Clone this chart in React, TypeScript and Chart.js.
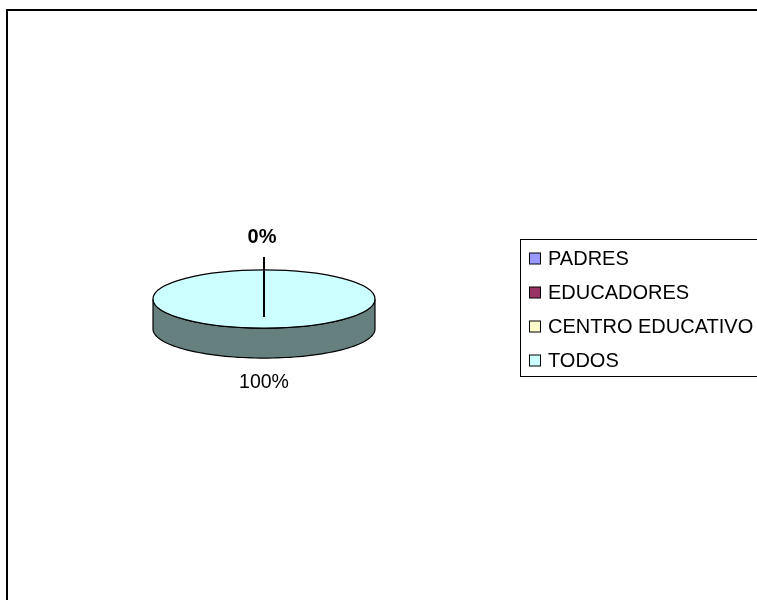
import React, { useEffect, useRef } from "react";
import { Chart, registerables } from "chart.js";

Chart.register(...registerables);

const categories = ["PADRES", "EDUCADORES", "CENTRO EDUCATIVO", "TODOS"];
const values = [0, 0, 0, 100];
const topColors = ["#9999FF", "#993366", "#FFFFCC", "#CCFFFF"];
const sideColors = ["#4D4D80", "#4D1A33", "#808066", "#668080"];

const TILT = 0.262;
const DEPTH = 30;
const FONT = '"Liberation Sans", Arial, sans-serif';

const pie3d = {
  id: "pie3d",
  beforeDraw(chart: any) {
    const ctx = chart.ctx;
    ctx.save();
    ctx.fillStyle = "#ffffff";
    ctx.fillRect(0, 0, chart.width, chart.height);
    ctx.strokeStyle = "#000000";
    ctx.lineWidth = 2;
    ctx.beginPath();
    ctx.rect(7, 10, chart.width + 20, chart.height + 20);
    ctx.stroke();
    ctx.restore();
  },
  beforeDatasetsDraw(chart: any) {
    const ctx = chart.ctx;
    const arcs = chart.getDatasetMeta(0).data;
    const a0 = arcs[0];
    const cx = a0.x, cy = a0.y, r = a0.outerRadius;
    ctx.save();
    ctx.lineWidth = 1.2;
    ctx.strokeStyle = "#000000";
    arcs.forEach((arc: any, i: number) => {
      const s = arc.startAngle, e = arc.endAngle;
      if (e - s <= 0) return;
      for (let n = -1; n <= 1; n++) {
        const lo = Math.max(s, 2 * Math.PI * n);
        const hi = Math.min(e, Math.PI + 2 * Math.PI * n);
        if (hi <= lo) continue;
        const steps = 80;
        ctx.beginPath();
        for (let k = 0; k <= steps; k++) {
          const t = lo + ((hi - lo) * k) / steps;
          const px = cx + r * Math.cos(t), py = cy + TILT * r * Math.sin(t);
          if (k === 0) ctx.moveTo(px, py); else ctx.lineTo(px, py);
        }
        for (let k = steps; k >= 0; k--) {
          const t = lo + ((hi - lo) * k) / steps;
          ctx.lineTo(cx + r * Math.cos(t), cy + TILT * r * Math.sin(t) + DEPTH);
        }
        ctx.closePath();
        ctx.fillStyle = sideColors[i];
        ctx.fill();
        ctx.stroke();
      }
    });
    ctx.restore();
    ctx.save();
    ctx.translate(cx, cy);
    ctx.scale(1, TILT);
    ctx.translate(-cx, -cy);
  },
  afterDatasetsDraw(chart: any) {
    const ctx = chart.ctx;
    ctx.restore();
    const arcs = chart.getDatasetMeta(0).data;
    const a0 = arcs[0];
    const cx = a0.x, cy = a0.y, r = a0.outerRadius;
    const ry = TILT * r;
    ctx.save();
    ctx.strokeStyle = "#000000";
    ctx.lineWidth = 1.2;
    ctx.beginPath();
    ctx.ellipse(cx, cy, r, ry, 0, 0, Math.PI * 2);
    ctx.stroke();
    // radial edges
    ctx.lineWidth = 2;
    const seen: Record<string, boolean> = {};
    arcs.forEach((arc: any) => {
      const key = arc.startAngle.toFixed(4);
      if (seen[key]) return;
      seen[key] = true;
      ctx.beginPath();
      ctx.moveTo(cx, cy + 18);
      ctx.lineTo(cx + r * Math.cos(arc.startAngle), cy + ry * Math.sin(arc.startAngle));
      ctx.stroke();
    });
    // labels
    const total = values.reduce((a, b) => a + b, 0);
    const drawn: Record<string, boolean> = {};
    arcs.forEach((arc: any, i: number) => {
      const pct = Math.round((values[i] / total) * 100);
      const mid = (arc.startAngle + arc.endAngle) / 2;
      const s = Math.sin(mid), c = Math.cos(mid);
      const ex = cx + r * c, ey = cy + ry * s;
      let lx: number, ly: number;
      if (s >= 0) {
        lx = ex;
        ly = ey + DEPTH + 25;
      } else {
        lx = ex - 2;
        ly = ey - 32;
      }
      const key = Math.round(lx) + ":" + Math.round(ly);
      if (drawn[key]) return;
      drawn[key] = true;
      if (s < 0 && values[i] === 0) {
        ctx.beginPath();
        ctx.moveTo(ex, ey - 13);
        ctx.lineTo(ex, ey);
        ctx.stroke();
      }
      ctx.fillStyle = "#000000";
      ctx.textAlign = "center";
      ctx.textBaseline = "middle";
      ctx.font = (values[i] === 0 ? "bold 20px " : "19.5px ") + FONT;
      ctx.fillText(pct + "%", lx, ly);
    });
    // legend
    ctx.lineWidth = 1;
    ctx.strokeStyle = "#000000";
    ctx.strokeRect(520.5, 239.5, 300, 137);
    ctx.font = "20px " + FONT;
    ctx.textAlign = "left";
    ctx.textBaseline = "middle";
    categories.forEach((label, i) => {
      const y = 258.5 + i * 34;
      ctx.fillStyle = topColors[i];
      ctx.fillRect(529.5, y - 5.5, 11, 11);
      ctx.strokeRect(529.5, y - 5.5, 11, 11);
      ctx.fillStyle = "#000000";
      ctx.fillText(label, 548, y + 1);
    });
    ctx.restore();
  },
};

export default function App() {
  const ref = useRef<HTMLCanvasElement>(null);
  useEffect(() => {
    if (!ref.current) return;
    const chart = new Chart(ref.current, {
      type: "pie",
      data: {
        labels: categories,
        datasets: [
          {
            data: values,
            backgroundColor: topColors,
            borderWidth: 0,
            hoverOffset: 0,
            clip: false as any,
          },
        ],
      },
      options: {
        responsive: false,
        animation: false,
        devicePixelRatio: 1,
        layout: { padding: { left: 153, right: 382, top: 188, bottom: 190 } },
        plugins: { legend: { display: false }, tooltip: { enabled: false } },
        events: [],
      },
      plugins: [pie3d],
    });
    return () => chart.destroy();
  }, []);
  return (
    <div style={{ position: "absolute", left: 0, top: 0, width: 757, height: 600 }}>
      <canvas ref={ref} width={757} height={600} style={{ display: "block" }} />
    </div>
  );
}
